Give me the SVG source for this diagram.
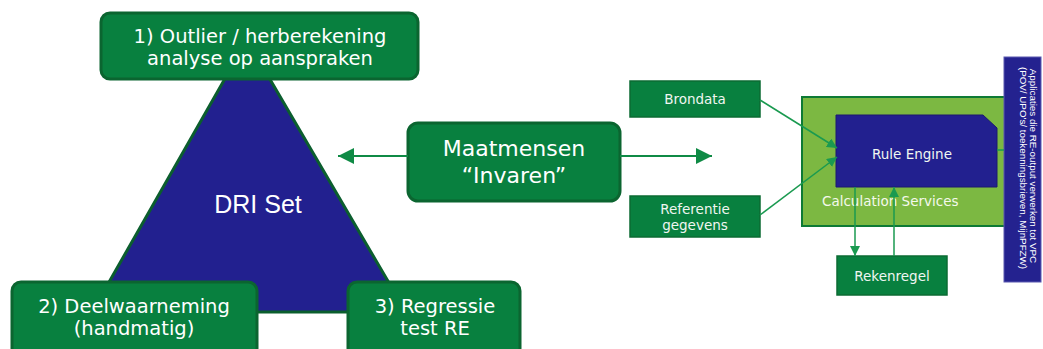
<svg xmlns="http://www.w3.org/2000/svg" width="1043" height="349" viewBox="0 0 1043 349">
<defs>
<style>
.gbox{fill:#08803f;stroke:#0b6530;stroke-width:3}
.sbox{fill:#08803f;stroke:#0b6b33;stroke-width:1.5}
.big{font-family:"DejaVu Sans",Verdana,sans-serif;font-size:19.5px;fill:#ffffff;text-anchor:middle}
.mm{font-family:"DejaVu Sans",Verdana,sans-serif;font-size:22px;fill:#ffffff;text-anchor:middle}
.sm{font-family:"DejaVu Sans",Verdana,sans-serif;font-size:13.5px;fill:#f0f6f1;text-anchor:middle}
.conn{stroke:#0f8a45;stroke-width:2;fill:none}
.conn2{stroke:#1a9a50;stroke-width:1.5;fill:none}
</style>
<marker id="ah" viewBox="0 0 10 10" refX="10" refY="5" markerWidth="16" markerHeight="16" markerUnits="userSpaceOnUse" orient="auto"><path d="M0,0 L10,5 L0,10 z" fill="#0f8a45"/></marker>
<marker id="ahs" viewBox="0 0 10 10" refX="10" refY="5" markerWidth="10" markerHeight="10" markerUnits="userSpaceOnUse" orient="auto"><path d="M0,0 L10,5 L0,10 z" fill="#1a9a50"/></marker>
</defs>
<rect width="1043" height="349" fill="#ffffff"/>

<g id="dri-set">
<polygon points="247,40 92,312 406,312" fill="#22208f" stroke="#0b5e2e" stroke-width="3" stroke-linejoin="round"/>
<text x="258" y="213" font-family="'Liberation Sans',Arial,sans-serif" font-size="25" fill="#ffffff" text-anchor="middle">DRI Set</text>
</g>

<g id="outlier">
<rect class="gbox" x="101" y="13" width="317" height="66" rx="9"/>
<text class="big" x="260" y="43">1) Outlier / herberekening</text>
<text class="big" x="260" y="65">analyse op aanspraken</text>
</g>

<g id="deelwaarneming">
<rect class="gbox" x="12" y="282" width="245" height="75" rx="9"/>
<text class="big" x="134" y="313">2) Deelwaarneming</text>
<text class="big" x="134" y="335">(handmatig)</text>
</g>

<g id="regressie">
<rect class="gbox" x="348" y="282" width="172" height="75" rx="9"/>
<text class="big" x="435" y="313">3) Regressie</text>
<text class="big" x="435" y="335">test RE</text>
</g>

<g id="maatmensen">
<rect class="gbox" x="408" y="123" width="212" height="78" rx="10"/>
<text class="mm" x="514" y="156">Maatmensen</text>
<text class="mm" x="514" y="183">“Invaren”</text>
</g>

<g id="brondata">
<rect class="sbox" x="630" y="81" width="130" height="36"/>
<text class="sm" x="695" y="104">Brondata</text>
</g>

<g id="referentie">
<rect class="sbox" x="630" y="196" width="130" height="41"/>
<text class="sm" x="695" y="214">Referentie</text>
<text class="sm" x="695" y="230">gegevens</text>
</g>

<g id="calculation-services">
<rect x="802" y="97" width="208" height="129" fill="#7cb842" stroke="#0d7a35" stroke-width="2"/>
<text x="822" y="206" font-family="'DejaVu Sans',Verdana,sans-serif" font-size="13.5" fill="#f4f8ec">Calculation Services</text>
</g>

<g id="rule-engine">
<polygon points="836,115 983,115 997,128 997,187 836,187" fill="#22208f" stroke="#1a1870" stroke-width="1"/>
<text class="sm" x="912" y="159">Rule Engine</text>
</g>

<g id="rekenregel">
<rect class="sbox" x="837" y="256" width="110" height="39"/>
<text class="sm" x="892" y="281">Rekenregel</text>
</g>

<g id="applicaties">
<rect x="1004" y="57" width="37" height="225" fill="#24228f" stroke="#5a58b0" stroke-width="1"/>
<g font-family="'Liberation Sans',Arial,sans-serif" font-size="9.8" fill="#ffffff" text-anchor="middle">
<text transform="translate(1030,166) rotate(90)">Applicaties die RE-output verwerken tot VPC</text>
<text transform="translate(1020,168) rotate(90)">(POV/ UPO's/ toekenningsbrieven, MijnPFZW)</text>
</g>
</g>

<g id="connectors">
<line class="conn" x1="408" y1="156" x2="338" y2="156" marker-end="url(#ah)"/>
<line class="conn" x1="620" y1="156" x2="712" y2="156" marker-end="url(#ah)"/>
<line class="conn2" x1="760" y1="100" x2="837" y2="148" marker-end="url(#ahs)"/>
<line class="conn2" x1="760" y1="215" x2="837" y2="157" marker-end="url(#ahs)"/>
<line class="conn2" x1="855" y1="187" x2="855" y2="256" marker-end="url(#ahs)"/>
<line class="conn2" x1="894" y1="256" x2="894" y2="187" marker-end="url(#ahs)"/>
<line x1="997" y1="150" x2="1004" y2="150" stroke="#1a9a50" stroke-width="1.5"/>
</g>
</svg>
